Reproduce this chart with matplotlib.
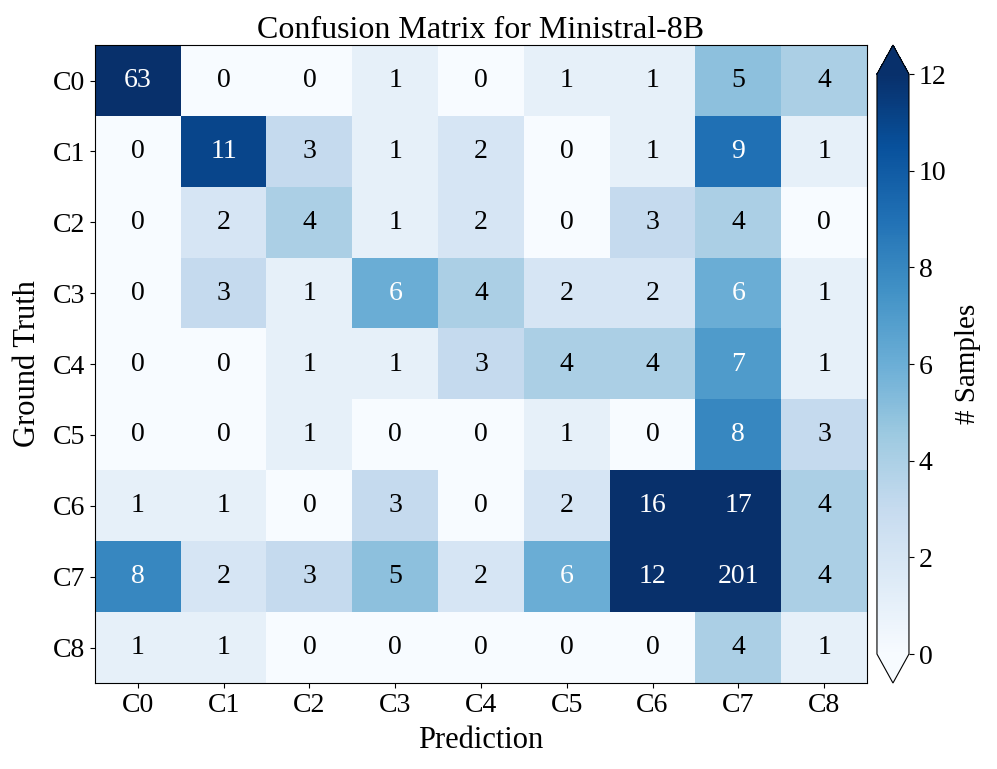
import matplotlib
matplotlib.use("Agg")
import matplotlib.pyplot as plt
import numpy as np

plt.rcParams['font.family'] = ['Liberation Serif', 'DejaVu Serif']

labels = ["C0", "C1", "C2", "C3", "C4", "C5", "C6", "C7", "C8"]

cm = np.array([
    [63, 0, 0, 1, 0, 1, 1, 5, 4],
    [0, 11, 3, 1, 2, 0, 1, 9, 1],
    [0, 2, 4, 1, 2, 0, 3, 4, 0],
    [0, 3, 1, 6, 4, 2, 2, 6, 1],
    [0, 0, 1, 1, 3, 4, 4, 7, 1],
    [0, 0, 1, 0, 0, 1, 0, 8, 3],
    [1, 1, 0, 3, 0, 2, 16, 17, 4],
    [8, 2, 3, 5, 2, 6, 12, 201, 4],
    [1, 1, 0, 0, 0, 0, 0, 4, 1],
])

fig = plt.figure(figsize=(9.97, 7.69), dpi=100)
ax = fig.add_axes([0.0953, 0.1118, 0.7743, 0.8296])
cax = fig.add_axes([0.8796, 0.1118, 0.0321, 0.8296])

im = ax.imshow(cm, cmap="Blues", vmin=0, vmax=12, aspect="auto")
cbar = fig.colorbar(im, cax=cax, extend="both")
cbar.set_ticks(np.arange(0, 13, 2))
cbar.ax.tick_params(labelsize=20)
cbar.set_label("# Samples", fontsize=21, labelpad=6)

# numbers in cells
for i in range(cm.shape[0]):
    for j in range(cm.shape[1]):
        v = cm[i, j]
        ax.text(j, i, str(v), ha="center", va="center", fontsize=20,
                color="white" if v > 5 else "black")

ax.set_xticks(range(len(labels)))
ax.set_yticks(range(len(labels)))
ax.set_xticklabels(labels)
ax.set_yticklabels(labels)
ax.tick_params(labelsize=20)
ax.set_xlabel("Prediction", fontsize=22, labelpad=6)
ax.set_ylabel("Ground Truth", fontsize=22, labelpad=8)
ax.set_title("Confusion Matrix for Ministral-8B", fontsize=23, pad=4)

fig.savefig("out.png", dpi=100)
